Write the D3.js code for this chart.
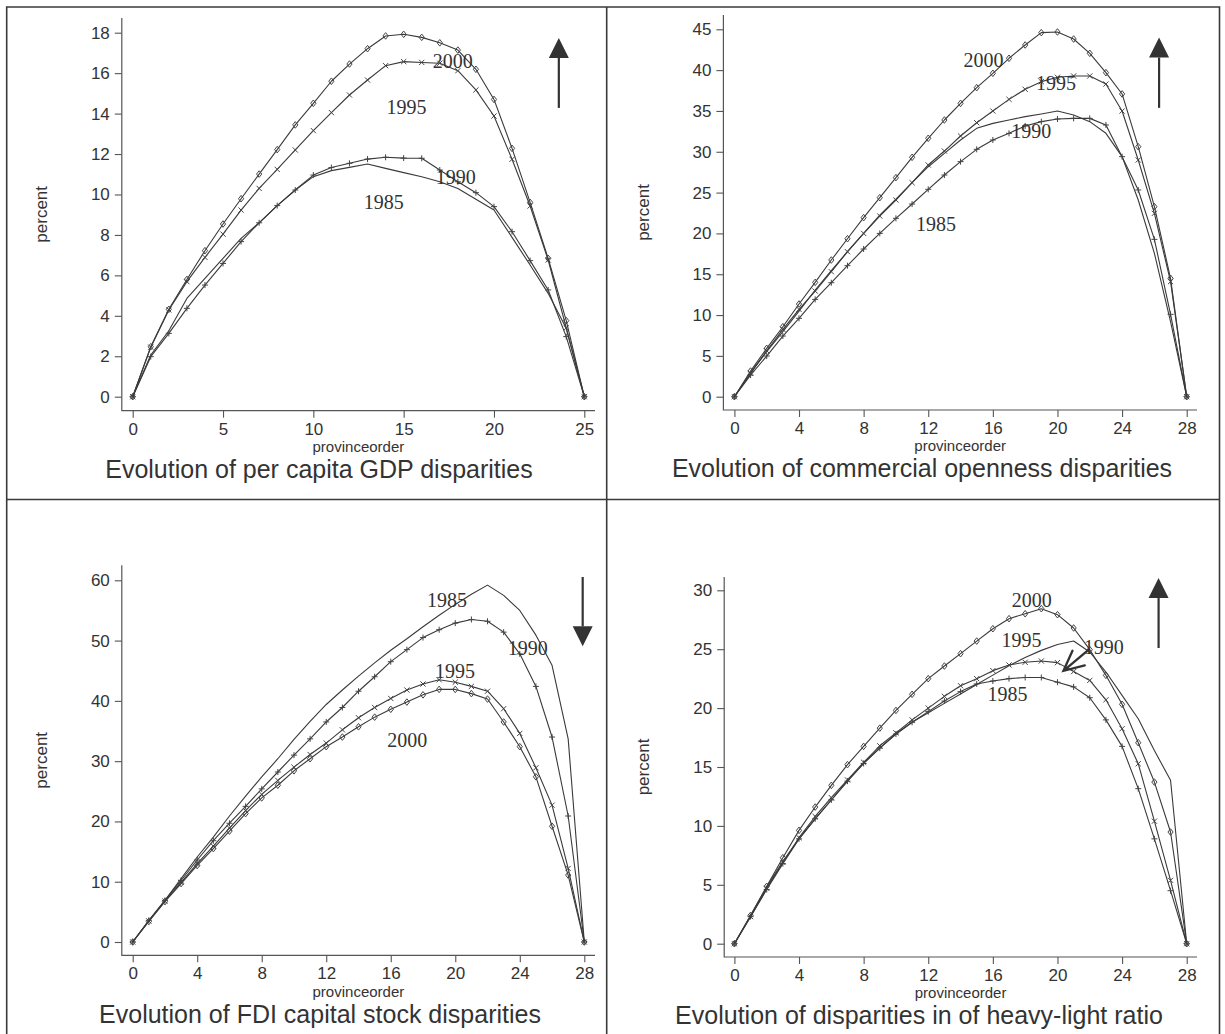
<!DOCTYPE html>
<html><head><meta charset="utf-8">
<script src="https://cdn.jsdelivr.net/npm/d3@7"></script>
<style>
html,body{margin:0;padding:0;background:#fff;}
svg{display:block;}
</style></head><body>
<svg id="chart" width="1225" height="1034"></svg>
<script>
// ---------- categories ----------
const order25 = [0,1,2,3,4,5,6,7,8,9,10,11,12,13,14,15,16,17,18,19,20,21,22,23,24,25];
const order28 = [0,1,2,3,4,5,6,7,8,9,10,11,12,13,14,15,16,17,18,19,20,21,22,23,24,25,26,27,28];

// ---------- tick labels ----------
const gdpXTicks = [0,5,10,15,20,25];
const gdpYTicks = [0,2,4,6,8,10,12,14,16,18];
const x28Ticks = [0,4,8,12,16,20,24,28];
const openYTicks = [0,5,10,15,20,25,30,35,40,45];
const fdiYTicks = [0,10,20,30,40,50,60];
const heavyYTicks = [0,5,10,15,20,25,30];

// ---------- per capita GDP ----------
const gdp1985 = [0,2.06,3.26,4.86,5.85,6.84,7.83,8.60,9.45,10.22,10.88,11.18,11.34,11.51,11.29,11.08,10.88,10.63,10.30,9.76,9.23,7.88,6.51,5.11,3.38,0];
const gdp1990 = [0,1.98,3.13,4.37,5.52,6.59,7.67,8.60,9.45,10.22,10.96,11.33,11.54,11.75,11.84,11.80,11.79,11.21,10.63,10.09,9.40,8.16,6.73,5.28,2.97,0];
const gdp1995 = [0,2.45,4.29,5.69,6.89,8.04,9.23,10.30,11.24,12.20,13.16,14.05,14.92,15.66,16.37,16.57,16.53,16.49,16.12,15.17,13.88,11.74,9.43,6.76,3.40,0];
const gdp2000 = [0,2.47,4.32,5.80,7.22,8.54,9.79,11.01,12.22,13.44,14.51,15.60,16.45,17.21,17.84,17.92,17.77,17.50,17.14,16.19,14.70,12.28,9.61,6.84,3.76,0];

// ---------- commercial openness ----------
const open1985 = [0,2.94,5.51,7.96,10.49,13.07,15.43,17.76,20.0,22.25,24.21,26.21,28.17,29.81,31.44,32.87,33.48,33.89,34.3,34.63,34.99,34.5,33.69,32.26,29.4,24.09,17.56,9.19,0];
const open1990 = [0,2.65,4.98,7.43,9.6,11.92,13.96,16.05,18.09,20.0,21.85,23.6,25.4,27.15,28.79,30.3,31.44,32.26,33.16,33.69,34.01,34.09,34.09,33.28,29.4,25.32,19.27,10.09,0];
const open1995 = [0,2.86,5.63,8.25,10.7,12.94,15.31,17.76,20.0,22.13,24.09,26.21,28.38,30.09,31.93,33.56,34.99,36.42,37.65,38.59,39.12,39.28,39.28,38.3,34.99,28.99,22.46,14.09,0];
const open2000 = [0,3.14,5.92,8.57,11.35,14.0,16.74,19.35,21.93,24.38,26.83,29.32,31.65,33.89,35.93,37.85,39.61,41.45,43.08,44.59,44.67,43.81,42.06,39.69,37.08,30.62,23.27,14.5,0];

// ---------- FDI capital stock ----------
const fdi1985 = [0,3.48,6.91,10.5,14.1,17.4,20.9,24.2,27.4,30.4,33.6,36.6,39.4,41.8,44.1,46.3,48.4,50.3,52.3,54.2,56.0,57.7,59.2,57.5,55.0,50.9,45.9,33.7,0];
const fdi1990 = [0,3.6,6.9,10.2,13.6,16.8,19.7,22.5,25.4,28.2,31.0,33.7,36.5,38.9,41.6,44.0,46.5,48.5,50.5,51.8,52.9,53.5,53.2,51.4,47.8,42.4,34.0,20.9,0];
const fdi1995 = [0,3.5,6.8,9.9,13.0,15.9,18.9,21.8,24.5,26.8,29.0,31.1,33.0,35.2,37.2,38.9,40.4,41.8,42.8,43.5,43.1,42.4,41.6,38.7,34.6,28.9,22.7,12.2,0];
const fdi2000 = [0,3.4,6.7,9.7,12.7,15.5,18.4,21.3,23.9,26.0,28.4,30.4,32.4,34.0,35.7,37.3,38.6,39.8,41.0,41.9,41.9,41.2,40.3,36.5,32.4,27.4,19.2,11.1,0];

// ---------- heavy-light ratio ----------
const heavy1985 = [0,2.4,4.8,7.0,8.9,10.6,12.2,13.8,15.3,16.6,17.8,18.8,19.6,20.4,21.2,22.0,22.8,23.6,24.3,24.9,25.4,25.7,24.76,23.06,21.08,19.1,16.4,13.87,0];
const heavy1990 = [0,2.3,4.6,6.8,8.9,10.6,12.2,13.8,15.3,16.6,17.8,18.8,19.7,20.6,21.4,22.05,22.3,22.5,22.6,22.6,22.2,21.8,20.88,19.0,16.75,13.16,8.9,4.5,0];
const heavy1995 = [0,2.3,4.7,6.9,9.0,10.8,12.4,13.9,15.4,16.8,17.9,19.0,20.0,21.0,21.9,22.5,23.18,23.66,23.89,24.0,23.86,23.1,22.35,20.7,18.25,15.28,10.4,5.38,0];
const heavy2000 = [0,2.4,4.87,7.3,9.62,11.6,13.44,15.2,16.75,18.3,19.8,21.17,22.5,23.57,24.62,25.69,26.74,27.59,28.01,28.44,27.93,26.8,24.96,22.78,20.32,17.06,13.72,9.48,0];

// ---------- year labels (data coordinates) ----------
const gdpLabels   = [["2000",17.72,16.62],["1995",15.16,14.33],["1990",17.89,10.88],["1985",13.9,9.64]];
const openLabels  = [["2000",15.42,41.18],["1995",19.91,38.44],["1990",18.37,32.56],["1985",12.48,21.16]];
const fdiLabels   = [["1985",19.49,56.7],["1990",24.5,48.83],["1995",19.98,44.98],["2000",17.02,33.46]];
const heavyLabels = [["2000",18.4,29.15],["1995",17.78,25.76],["1990",22.86,25.19],["1985",16.9,21.22]];

const titles = ["Evolution of per capita GDP disparities",
                "Evolution of commercial openness disparities",
                "Evolution of FDI capital stock disparities",
                "Evolution of disparities in of heavy-light ratio"];

// ---------- layout (pixels) ----------
const panels = [
  {order:order25, xTicks:gdpXTicks, yTicks:gdpYTicks, yMax:18,
   series:[[gdp1985,"none"],[gdp1990,"plus"],[gdp1995,"cross"],[gdp2000,"diamond"]],
   labels:gdpLabels, title:titles[0],
   ax:121.8, ay:410.7, x0:132.7, x1:584.3, yb:396.7, yt:32.7, top:18, right:595, titleX:319, ylabX:41,
   arrow:{x:23.59, tip:17.74, tail:14.28, dir:"up"}},
  {order:order28, xTicks:x28Ticks, yTicks:openYTicks, yMax:45,
   series:[[open1985,"none"],[open1990,"plus"],[open1995,"cross"],[open2000,"diamond"]],
   labels:openLabels, title:titles[1],
   ax:723.4, ay:410, x0:734.4, x1:1186.7, yb:396.7, yt:29.3, top:15, right:1197, titleX:922, ylabX:643,
   arrow:{x:26.29, tip:44.0, tail:35.38, dir:"up"}},
  {order:order28, xTicks:x28Ticks, yTicks:fdiYTicks, yMax:60,
   series:[[fdi1985,"none"],[fdi1990,"plus"],[fdi1995,"cross"],[fdi2000,"diamond"]],
   labels:fdiLabels, title:titles[2],
   ax:121.8, ay:955.3, x0:132.7, x1:584.3, yb:942, yt:580.3, top:565.3, right:595, titleX:320, ylabX:41,
   arrow:{x:27.9, tip:49.05, tail:60.55, dir:"down"}},
  {order:order28, xTicks:x28Ticks, yTicks:heavyYTicks, yMax:30,
   series:[[heavy1985,"none"],[heavy1990,"plus"],[heavy1995,"cross"],[heavy2000,"diamond"]],
   labels:heavyLabels, title:titles[3],
   ax:724.2, ay:957, x0:734.4, x1:1186.7, yb:943.7, yt:590.3, top:577, right:1197, titleX:919, ylabX:643,
   arrow:{x:26.26, tip:31.04, tail:25.1, dir:"up"},
   small:{from:[21.9,24.93], to:[20.37,23.17]}}
];

const INK = "#333";
const SANS = "'Liberation Sans', Arial, Helvetica, sans-serif";
const SERIF = "'Liberation Serif', 'Times New Roman', serif";

const svg = d3.select("#chart");
svg.append("rect").attr("width",1225).attr("height",1034).attr("fill","#fff");

// frame
const frame = svg.append("g").attr("stroke","#3a3a3a").attr("stroke-width",1.6).attr("fill","none");
frame.append("path").attr("d","M6.7,1034V7H1219.5V1034");
frame.append("path").attr("d","M606.7,7V1034");
frame.append("path").attr("d","M6.7,499.5H1219.5");

const markerPath = {
  diamond: "M0,-3.3L2.6,0L0,3.3L-2.6,0Z",
  cross: "M-2.6,-2.6L2.6,2.6M-2.6,2.6L2.6,-2.6",
  plus: "M-3,0H3M0,-3V3"
};

panels.forEach(p => {
  const g = svg.append("g");
  const x = d3.scaleLinear().domain([0, p.order[p.order.length-1]]).range([p.x0, p.x1]);
  const y = d3.scaleLinear().domain([0, p.yMax]).range([p.yb, p.yt]);

  // axis lines
  g.append("path").attr("d",`M${p.ax},${p.top}V${p.ay}H${p.right}`)
    .attr("fill","none").attr("stroke","#555").attr("stroke-width",1.2);

  const yAx = g.append("g").attr("transform",`translate(${p.ax},0)`)
    .call(d3.axisLeft(y).tickValues(p.yTicks).tickSize(7).tickPadding(5).tickFormat(d3.format("d")));
  const xAx = g.append("g").attr("transform",`translate(0,${p.ay})`)
    .call(d3.axisBottom(x).tickValues(p.xTicks).tickSize(7).tickPadding(5).tickFormat(d3.format("d")));
  [yAx,xAx].forEach(a => {
    a.select(".domain").remove();
    a.selectAll(".tick line").attr("stroke","#555").attr("stroke-width",1.1);
    a.selectAll(".tick text").attr("fill",INK).style("font-family",SANS).style("font-size","17px");
  });

  // axis titles
  g.append("text").attr("x",(p.ax+p.right)/2).attr("y",p.ay+36).attr("dy","0.35em")
    .attr("text-anchor","middle").attr("fill",INK).style("font-family",SANS).style("font-size","15px")
    .text("provinceorder");
  g.append("text").attr("transform",`translate(${p.ylabX},${(p.top+p.ay)/2}) rotate(-90)`).attr("dy","0.35em")
    .attr("text-anchor","middle").attr("fill",INK).style("font-family",SANS).style("font-size","17px")
    .text("percent");
  g.append("text").attr("x",p.titleX).attr("y",p.ay+58.5).attr("dy","0.35em")
    .attr("text-anchor","middle").attr("fill",INK).style("font-family",SANS).style("font-size","25px")
    .text(p.title);

  // lines + markers
  const line = d3.line().x((d,i)=>x(p.order[i])).y(d=>y(d));
  p.series.forEach(([vals, mk]) => {
    g.append("path").datum(vals).attr("d",line)
      .attr("fill","none").attr("stroke","#3a3a3a").attr("stroke-width",1.1).attr("stroke-linejoin","round");
    if (mk !== "none") {
      g.append("g").selectAll("path").data(vals).join("path")
        .attr("transform",(d,i)=>`translate(${x(p.order[i])},${y(d)})`)
        .attr("d",markerPath[mk]).attr("fill","none").attr("stroke","#444").attr("stroke-width",1);
    }
  });

  // year labels
  g.append("g").selectAll("text").data(p.labels).join("text")
    .attr("x",d=>x(d[1])).attr("y",d=>y(d[2])).attr("dy","0.35em")
    .attr("text-anchor","middle").attr("fill",INK)
    .style("font-family",SERIF).style("font-size","20px")
    .text(d=>d[0]);

  // big arrow
  const a = p.arrow;
  const ax = x(a.x), tipY = y(a.tip), tailY = y(a.tail);
  const s = a.dir === "up" ? 1 : -1;
  const baseY = tipY + s*20;
  g.append("line").attr("x1",ax).attr("x2",ax).attr("y1",tailY).attr("y2",baseY)
    .attr("stroke",INK).attr("stroke-width",2.2);
  g.append("path").attr("d",`M${ax},${tipY}L${ax-10},${baseY}L${ax+10},${baseY}Z`).attr("fill",INK);

  // small arrow
  if (p.small) {
    const fx = x(p.small.from[0]), fy = y(p.small.from[1]);
    const tx = x(p.small.to[0]), ty = y(p.small.to[1]);
    const ang = Math.atan2(ty-fy, tx-fx);
    const L = 22, spread = 0.45;
    const b1 = [tx - L*Math.cos(ang-spread), ty - L*Math.sin(ang-spread)];
    const b2 = [tx - L*Math.cos(ang+spread), ty - L*Math.sin(ang+spread)];
    g.append("path").attr("d",`M${fx},${fy}L${tx},${ty}M${b1[0]},${b1[1]}L${tx},${ty}L${b2[0]},${b2[1]}`)
      .attr("fill","none").attr("stroke",INK).attr("stroke-width",2.3).attr("stroke-linecap","round");
  }
});
</script>
</body></html>
